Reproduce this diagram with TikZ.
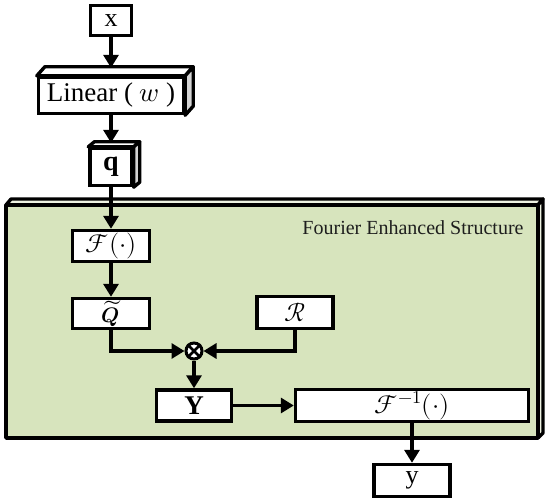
\documentclass[tikz,border=0pt]{standalone}
\usepackage{fontspec}
\usepackage{unicode-math}
\setmainfont{Liberation Serif}
\setmathfont{Latin Modern Math}
\usetikzlibrary{arrows.meta}
\definecolor{panelgreen}{HTML}{D7E4BD}
\definecolor{panelside}{HTML}{EEF3E2}
\definecolor{sidegray}{HTML}{D4D4D4}
\definecolor{titlecol}{HTML}{1E1E1E}
\begin{document}
\begin{tikzpicture}[x=1pt,y=-1pt,
  box/.style={draw=black, line width=3.4pt, fill=white, inner sep=0pt, font=\fontsize{26}{28}\selectfont},
  arr/.style={line width=3.4pt, -{Triangle[length=13pt,width=15pt]}},
  face/.style={draw=black, line width=3.4pt, line join=round}]
\useasboundingbox (0,0) rectangle (550,503);

% panel (3D slab)
\filldraw[face, fill=panelside] (6,205) -- (11,199) -- (543,199) -- (538,205) -- cycle;
\filldraw[face, fill=panelside] (538,205) -- (543,199) -- (543,433) -- (538,438) -- cycle;
\filldraw[face, fill=panelgreen] (6,205) rectangle (538,438);
\node[text=titlecol, font=\fontsize{20}{22}\selectfont, anchor=center] (title) at (413,228) {Fourier Enhanced Structure};

% input
\node[box, minimum width=41pt, minimum height=30pt] (x) at (111,20.5) {x};

% Linear block (3D)
\node[box, minimum width=145pt, minimum height=36pt, font=\fontsize{27}{29}\selectfont] (lin) at (111,95.5) {Linear ( $w$ )};
\filldraw[face, fill=white] (lin.north west) -- ([shift={(8,-9)}]lin.north west) -- ([shift={(8,-9)}]lin.north east) -- (lin.north east) -- cycle;
\filldraw[face, fill=sidegray] (lin.north east) -- ([shift={(8,-9)}]lin.north east) -- ([shift={(8,-9)}]lin.south east) -- (lin.south east) -- cycle;

% q block (3D)
\node[box, minimum width=42pt, minimum height=37pt, font=\fontsize{28}{30}\selectfont\bfseries] (q) at (111,167) {q};
\filldraw[face, fill=white] (q.north west) -- ([shift={(6,-5)}]q.north west) -- ([shift={(6,-5)}]q.north east) -- (q.north east) -- cycle;
\filldraw[face, fill=sidegray] (q.north east) -- ([shift={(6,-5)}]q.north east) -- ([shift={(6,-5)}]q.south east) -- (q.south east) -- cycle;

% inner blocks
\node[box, minimum width=77pt, minimum height=31pt] (F) at (111,246) {$\mathcal{F}(\cdot)$};
\node[box, minimum width=77pt, minimum height=30pt, font=\fontsize{21}{22}\selectfont] (Q) at (111,313.5) {$\widetilde{\symbfit{Q}}$};
\node[box, minimum width=76pt, minimum height=32pt] (R) at (295,312.5) {$\mathcal{R}$};
\node[circle, draw=black, line width=3pt, fill=white, minimum size=16pt, inner sep=0pt] (ot) at (194,351) {};
\draw[line width=2.6pt] (ot.north east) -- (ot.south west) (ot.north west) -- (ot.south east);
\node[box, minimum width=75pt, minimum height=31pt, font=\fontsize{27}{29}\selectfont\bfseries] (Y) at (194,405.5) {Y};
\node[box, minimum width=233pt, minimum height=32pt] (Finv) at (412,405.5) {$\mathcal{F}^{-1}(\cdot)$};
\node[box, minimum width=76pt, minimum height=32pt] (y) at (412,480.5) {y};

% connectors
\draw[arr] (x) -- ([yshift=8pt]lin.north);
\draw[arr] (lin) -- ([yshift=4pt]q.north);
\draw[arr] (q) -- (F);
\draw[arr] (F) -- (Q);
\draw[arr] (Q.south) |- (ot.west);
\draw[arr] (R.south) |- (ot.east);
\draw[arr] (ot) -- (Y);
\draw[arr] (Y) -- (Finv);
\draw[arr] (Finv) -- (y);
\end{tikzpicture}
\end{document}
